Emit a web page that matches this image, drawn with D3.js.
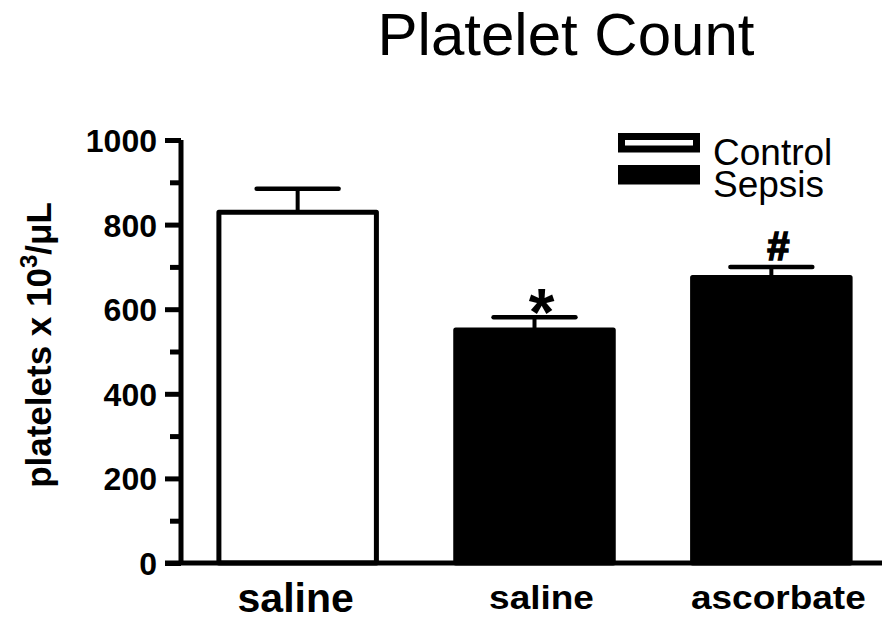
<!DOCTYPE html>
<html>
<head>
<meta charset="utf-8">
<script src="https://cdn.jsdelivr.net/npm/d3@7"></script>
<style>
  body { margin: 0; background: #fff; }
  text { font-family: "Liberation Sans", Arial, sans-serif; fill: #000; }
</style>
</head>
<body>
<div id="chart"></div>
<script>
// values
const groups = ["saline", "saline", "ascorbate"];
const conditions = ["Control", "Sepsis", "Sepsis"];
const means = [829, 551, 675];
const sems = [56, 30, 25];
const marks = ["", "*", "#"];
const yTicks = [0, 200, 400, 600, 800, 1000];
const yMinor = [100, 300, 500, 700, 900];
const legendItems = ["Control", "Sepsis"];

const width = 882, height = 621;
const fillFor = { Control: "#fff", Sepsis: "#000" };

const svg = d3.select("#chart").append("svg")
    .attr("width", width)
    .attr("height", height);

const y = d3.scaleLinear().domain([0, 1000]).range([563, 140]);
const x = d3.scaleBand()
    .domain(d3.range(groups.length))
    .range([181, 888])
    .paddingInner(0.335)
    .paddingOuter(0.16);

// title
svg.append("text")
    .attr("x", 566)
    .attr("y", 55)
    .attr("text-anchor", "middle")
    .attr("font-size", 60)
    .text("Platelet Count");

// y axis title
const yTitle = svg.append("text")
    .attr("transform", "translate(51,345) rotate(-90)")
    .attr("text-anchor", "middle")
    .attr("font-size", 35)
    .attr("font-weight", "bold");
yTitle.append("tspan").text("platelets x 10");
yTitle.append("tspan").attr("font-size", 24).attr("dy", -14).text("3");
yTitle.append("tspan").attr("dy", 14).text("/\u03bcL");

// error bars
const err = svg.append("g").selectAll("g")
    .data(means)
    .enter()
    .append("g");

err.append("line")
    .attr("x1", (d, i) => x(i) + x.bandwidth() / 2)
    .attr("x2", (d, i) => x(i) + x.bandwidth() / 2)
    .attr("y1", d => y(d))
    .attr("y2", (d, i) => y(d + sems[i]))
    .style("stroke", "#000")
    .style("stroke-width", 4);

err.append("line")
    .attr("x1", (d, i) => x(i) + x.bandwidth() * 0.24)
    .attr("x2", (d, i) => x(i) + x.bandwidth() * 0.76)
    .attr("y1", (d, i) => y(d + sems[i]))
    .attr("y2", (d, i) => y(d + sems[i]))
    .style("stroke", "#000")
    .style("stroke-width", 4.5)
    .style("stroke-linecap", "round");

// bars
svg.append("g").selectAll("rect")
    .data(means)
    .enter()
    .append("rect")
    .attr("x", (d, i) => x(i))
    .attr("width", x.bandwidth())
    .attr("y", d => y(d))
    .attr("height", d => y(0) - y(d))
    .style("fill", (d, i) => fillFor[conditions[i]])
    .style("stroke", "#000")
    .style("stroke-width", 5)
    .style("stroke-linejoin", "round");

// significance marks
svg.append("g").selectAll("text")
    .data(means)
    .enter()
    .append("text")
    .attr("x", (d, i) => x(i) + x.bandwidth() / 2 + 7)
    .attr("y", (d, i) => y(d + sems[i]) + (marks[i] === "*" ? 18 : -7))
    .attr("text-anchor", "middle")
    .style("font-weight", "bold")
    .style("stroke", "#000")
    .style("stroke-width", (d, i) => marks[i] === "#" ? 1.6 : 0)
    .attr("font-size", (d, i) => marks[i] === "*" ? 66 : 40)
    .text((d, i) => marks[i]);

// y axis
const yAxis = svg.append("g")
    .attr("transform", "translate(181,0)")
    .call(d3.axisLeft(y).tickValues(yTicks).tickFormat(d3.format("d"))
        .tickSize(16).tickSizeOuter(0).tickPadding(8));
yAxis.select(".domain").style("stroke-width", 5).attr("d", "M0," + y(1000) + "V" + y(0));
yAxis.selectAll(".tick line").style("stroke-width", 5);
yAxis.selectAll(".tick text")
    .attr("font-size", 32)
    .attr("font-weight", "bold")
    .attr("font-family", "'Liberation Sans', Arial, sans-serif")
    .attr("dy", "0.36em");

const yMinorAxis = svg.append("g")
    .attr("transform", "translate(181,0)")
    .call(d3.axisLeft(y).tickValues(yMinor).tickSize(11).tickFormat(""));
yMinorAxis.select(".domain").remove();
yMinorAxis.selectAll(".tick line").style("stroke-width", 5);

// x axis baseline
svg.append("line")
    .attr("x1", 165)
    .attr("x2", width)
    .attr("y1", y(0))
    .attr("y2", y(0))
    .style("stroke", "#000")
    .style("stroke-width", 5);

// x labels
svg.append("g").selectAll("text")
    .data(groups)
    .enter()
    .append("text")
    .attr("transform", (d, i) => {
        let cx = x(i) + x.bandwidth() / 2;
        if (i === 0) return "translate(" + (cx - 2) + ",612)";
        return "translate(" + (cx + 7) + ",609) scale(1,0.88)";
    })
    .attr("text-anchor", "middle")
    .attr("font-weight", "bold")
    .attr("font-size", (d, i) => i === 0 ? 41 : 37)
    .text(d => d);

// legend
const legend = svg.append("g").selectAll("g")
    .data(legendItems)
    .enter()
    .append("g")
    .attr("transform", (d, i) => "translate(0," + (i * 32) + ")");

legend.append("rect")
    .attr("x", 621.5)
    .attr("y", 136.5)
    .attr("width", 75)
    .attr("height", 12.5)
    .style("fill", d => fillFor[d])
    .style("stroke", "#000")
    .style("stroke-width", 7);

legend.append("text")
    .attr("x", 713)
    .attr("y", (d, i) => i === 0 ? 165 : 165)
    .attr("font-size", 37)
    .text(d => d);
</script>
</body>
</html>
